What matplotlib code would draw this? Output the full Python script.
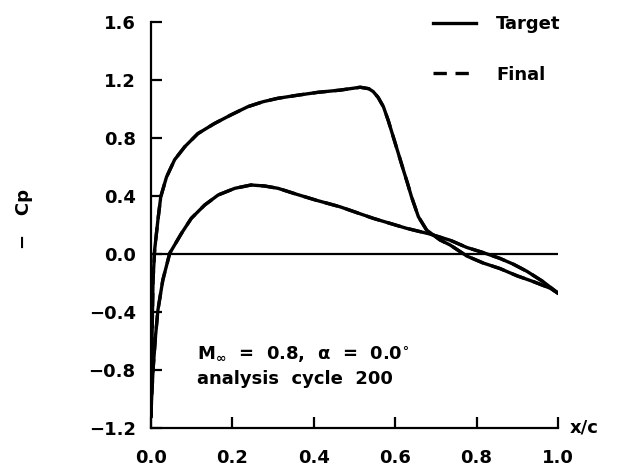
import numpy as np
import matplotlib
matplotlib.use("Agg")
import matplotlib.pyplot as plt

# -Cp distributions (upper and lower surface)
x_upper = [0.0, 0.001, 0.003, 0.005, 0.009, 0.017, 0.024, 0.038, 0.058, 0.083,
           0.115, 0.156, 0.197, 0.238, 0.275, 0.312, 0.360, 0.410, 0.464, 0.514,
           0.535, 0.546, 0.558, 0.571, 0.583, 0.595, 0.607, 0.620, 0.630, 0.640,
           0.657, 0.677, 0.710, 0.735, 0.776, 0.816, 0.857, 0.899, 0.939, 0.980, 1.0]
cp_upper = [-1.12, -0.90, -0.50, -0.18, 0.03, 0.235, 0.395, 0.53, 0.65, 0.74,
            0.83, 0.90, 0.96, 1.016, 1.05, 1.074, 1.095, 1.115, 1.13, 1.15,
            1.14, 1.12, 1.08, 1.016, 0.92, 0.81, 0.70, 0.58, 0.49, 0.395,
            0.257, 0.166, 0.097, 0.062, -0.014, -0.062, -0.10, -0.15, -0.19, -0.235, -0.27]

x_lower = [0.0, 0.001, 0.005, 0.011, 0.017, 0.029, 0.046, 0.075, 0.099, 0.132,
           0.165, 0.206, 0.246, 0.279, 0.312, 0.360, 0.407, 0.464, 0.546, 0.628,
           0.685, 0.735, 0.776, 0.816, 0.857, 0.890, 0.924, 0.963, 1.0]
cp_lower = [-1.12, -1.03, -0.80, -0.57, -0.386, -0.18, 0.005, 0.143, 0.246, 0.338,
            0.407, 0.453, 0.476, 0.469, 0.453, 0.41, 0.37, 0.326, 0.246, 0.177,
            0.138, 0.095, 0.045, 0.01, -0.03, -0.07, -0.12, -0.19, -0.27]

# final design has converged onto the target, curves coincide
x_final_upper = list(x_upper)
cp_final_upper = list(cp_upper)
x_final_lower = list(x_lower)
cp_final_lower = list(cp_lower)

x_ticks = [0.0, 0.2, 0.4, 0.6, 0.8, 1.0]
y_ticks = [-1.2, -0.8, -0.4, 0.0, 0.4, 0.8, 1.2, 1.6]

plt.rcParams['font.family'] = ['DejaVu Sans']
plt.rcParams['font.weight'] = 'bold'
plt.rcParams['mathtext.fontset'] = 'dejavusans'
plt.rcParams['mathtext.default'] = 'bf'

fig = plt.figure(figsize=(6.19, 4.72), dpi=100)
ax = fig.add_axes([151/619, 1 - 428/472, 407/619, 406/472])

lw = 2.4
ax.plot(x_upper, cp_upper, color='black', lw=lw, label='Target')
ax.plot(x_lower, cp_lower, color='black', lw=lw)
ax.plot(x_final_upper, cp_final_upper, color='black', lw=lw, ls=(0, (4, 2.6)), label='Final')
ax.plot(x_final_lower, cp_final_lower, color='black', lw=lw, ls=(0, (4, 2.6)))
ax.axhline(0.0, color='black', lw=1.6)

ax.set_xlim(0, 1.0)
ax.set_ylim(-1.2, 1.6)
ax.set_xticks(x_ticks)
ax.set_yticks(y_ticks)
ax.set_xticklabels(['%.1f' % v for v in x_ticks])
ax.set_yticklabels([('%.1f' % v).replace('-', '\u2212') for v in y_ticks])

for s in ['top', 'right']:
    ax.spines[s].set_visible(False)
for s in ['left', 'bottom']:
    ax.spines[s].set_linewidth(1.6)

ax.tick_params(axis='y', direction='in', length=8, width=1.6, pad=11, labelsize=13)
ax.tick_params(axis='x', direction='in', length=8, width=1.6, pad=15, labelsize=13)

ax.set_ylabel('\u2212   Cp', fontsize=13, fontweight='bold')
ax.yaxis.set_label_coords(-0.29, 0.515)

ax.text(1.03, -1.2, 'x/c', fontsize=13, fontweight='bold', va='center', ha='left')

ax.text(0.113, -0.73, r'M$_{\infty}$  =  0.8,  $\alpha$  =  0.0$^{\circ}$',
        fontsize=13, fontweight='bold', va='baseline')
ax.text(0.113, -0.90, 'analysis  cycle  200', fontsize=13, fontweight='bold', va='baseline')

leg = ax.legend(loc='upper left', bbox_to_anchor=(433/619, 1 - 15/472),
                bbox_transform=fig.transFigure, frameon=False, fontsize=13,
                handlelength=2.4, handletextpad=1.1, labelspacing=1.8,
                borderpad=0, borderaxespad=0)
for t in leg.get_texts():
    t.set_fontweight('bold')

fig.savefig('out.png', dpi=100)
